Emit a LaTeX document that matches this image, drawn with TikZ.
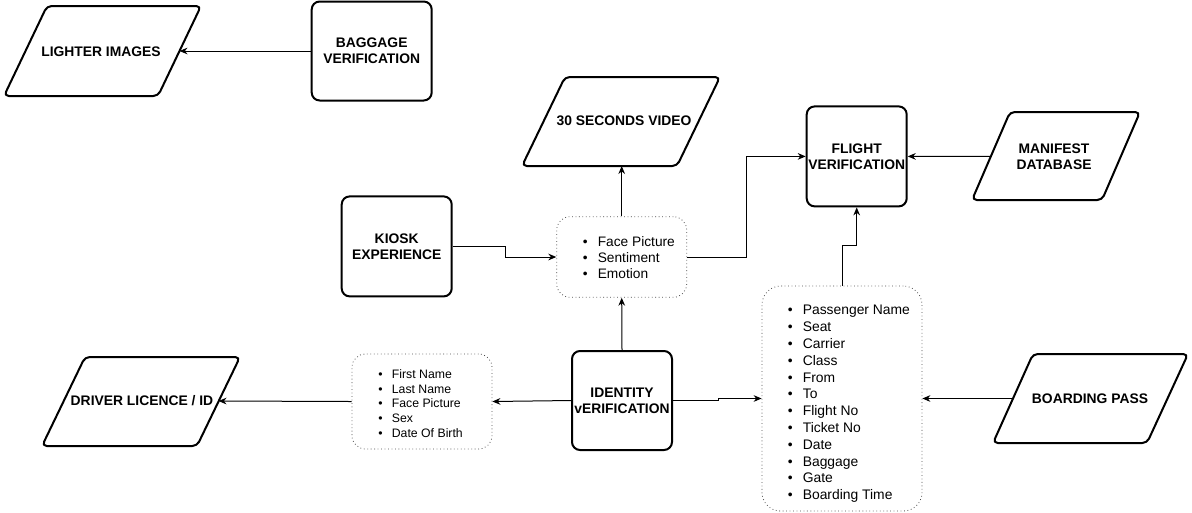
\documentclass[tikz,border=0pt]{standalone}
\usepackage{fontspec}
\setmainfont{Liberation Sans}
\usetikzlibrary{arrows.meta}
\begin{document}
\begin{tikzpicture}[x=0.75pt,y=-0.75pt,
  procbox/.style={draw,line width=1.5pt,rounded corners=6pt,align=center,inner sep=0pt,
    font=\bfseries\fontsize{10.4}{12.2}\selectfont},
  databox/.style={draw,line width=1.5pt,rounded corners=3.5pt,line join=round},
  titletext/.style={align=center,inner sep=0pt,font=\bfseries\fontsize{10.4}{12.2}\selectfont},
  listbox/.style={draw=black!70,dotted,line width=0.6pt,rounded corners=10pt,inner sep=0pt},
  listtext/.style={align=left,inner sep=0pt,anchor=west},
  conn/.style={line width=0.75pt,-{Stealth[length=6pt,width=5pt]}}
]
\useasboundingbox (0,0) rectangle (1192,512);

% data (parallelogram) shapes
\draw[databox] (47,6) -- (201,6) -- (158,96) -- (4,96) -- cycle;
\node[titletext] (light) at (101,51.5) {LIGHTER IMAGES};
\coordinate (light-e) at (179.5,51);

\draw[databox] (565,77) -- (720,77) -- (677,166) -- (522,166) -- cycle;
\node[titletext] (video) at (624,121) {30 SECONDS VIDEO};
\coordinate (video-s) at (621.7,166);

\draw[databox] (85,357) -- (240,357) -- (197,446) -- (42,446) -- cycle;
\node[titletext] (driver) at (142,401) {DRIVER LICENCE / ID};
\coordinate (driver-e) at (218.5,401);

\draw[databox] (1010,112) -- (1140,112) -- (1102,200) -- (972,200) -- cycle;
\node[titletext] (manifest) at (1054,156.5) {MANIFEST\\DATABASE};
\coordinate (manifest-w) at (991,156.3);

\draw[databox] (1033,354) -- (1188,354) -- (1147,443) -- (993,443) -- cycle;
\node[titletext] (board) at (1090,398.5) {BOARDING PASS};
\coordinate (board-w) at (1013,398.5);

% process boxes
\node[procbox,minimum width=90pt,minimum height=74.25pt] (bag) at (371.7,51) {BAGGAGE\\VERIFICATION};
\node[procbox,minimum width=82.5pt,minimum height=75pt] (kiosk) at (396.7,246.4) {KIOSK\\EXPERIENCE};
\node[procbox,minimum width=75pt,minimum height=75pt] (flight) at (856.7,156.4) {FLIGHT\\VERIFICATION};
\node[procbox,minimum width=75pt,minimum height=74.25pt] (ident) at (622,400.5) {IDENTITY\\vERIFICATION};

% list boxes
\node[listbox,minimum width=97.5pt,minimum height=60.5pt] (face) at (621.7,257) {};
\node[listtext,font=\fontsize{10.3}{12}\selectfont] (facet) at (582.7,257.5)
  {•\hspace{7.5pt}Face Picture\\•\hspace{7.5pt}Sentiment\\•\hspace{7.5pt}Emotion};

\node[listbox,minimum width=105pt,minimum height=71.25pt] (fn) at (422,401.5) {};
\node[listtext,font=\fontsize{9.2}{11}\selectfont] (fnt) at (378,403.5)
  {•\hspace{7pt}First Name\\•\hspace{7pt}Last Name\\•\hspace{7pt}Face Picture\\•\hspace{7pt}Sex\\•\hspace{7pt}Date Of Birth};

\node[listbox,minimum width=120pt,minimum height=168.75pt,rounded corners=14pt] (pass) at (842,398.5) {};
\node[listtext,font=\fontsize{10.4}{12.6}\selectfont] (passt) at (787.7,404)
  {•\hspace{7.5pt}Passenger Name\\•\hspace{7.5pt}Seat\\•\hspace{7.5pt}Carrier\\•\hspace{7.5pt}Class\\•\hspace{7.5pt}From\\•\hspace{7.5pt}To\\•\hspace{7.5pt}Flight No\\•\hspace{7.5pt}Ticket No\\•\hspace{7.5pt}Date\\•\hspace{7.5pt}Baggage\\•\hspace{7.5pt}Gate\\•\hspace{7.5pt}Boarding Time};

% connectors
\draw[conn] (bag.west) -- (light-e);
\draw[conn] (kiosk.east) -- ++(52.5,0) |- (face.west);
\draw[conn] (face.north) -- (video-s);
\draw[conn] (face.east) -- ++(59.3,0) |- (flight.west);
\draw[conn] (manifest-w) -- (flight.east);
\draw[conn] (pass.north) -- ++(0,-40) -| (flight.south);
\draw[conn] (ident.north) -- (face.south);
\draw[conn] (ident.east) -- ++(45,0) |- (pass.west);
\draw[conn] (ident.west) -- (fn.east);
\draw[conn] (fn.west) -- (driver-e);
\draw[conn] (board-w) -- (pass.east);
\end{tikzpicture}
\end{document}
